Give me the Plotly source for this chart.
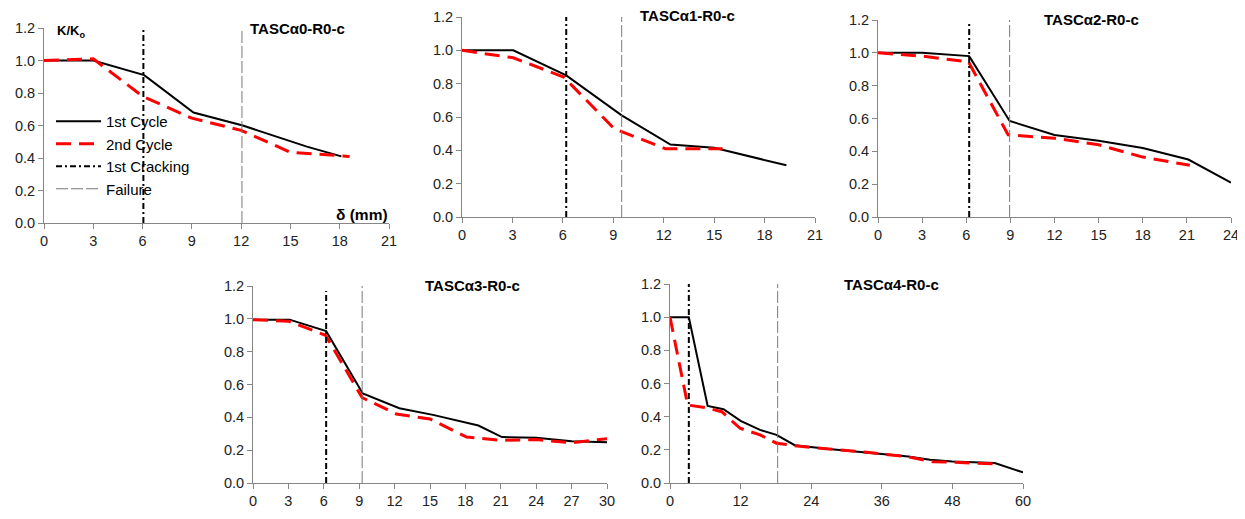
import plotly.graph_objects as go

W, H = 1245, 519
OFF = 8  # default body margin of the page

titles = ["TASCα0-R0-c", "TASCα1-R0-c", "TASCα2-R0-c", "TASCα3-R0-c", "TASCα4-R0-c"]

s0_x1 = [0, 3, 6.1, 9.1, 12.1, 16, 18.1]
s0_y1 = [1.0, 1.0, 0.91, 0.68, 0.60, 0.47, 0.41]
s0_x2 = [0, 3, 6, 9, 12, 15, 18.6]
s0_y2 = [1.0, 1.01, 0.78, 0.645, 0.57, 0.435, 0.41]

s1_x1 = [0, 3.05, 6.2, 9.5, 12.4, 15, 19.3]
s1_y1 = [1.0, 1.0, 0.85, 0.61, 0.435, 0.415, 0.31]
s1_x2 = [0, 3.05, 6.05, 9.05, 12.1, 15.5]
s1_y2 = [1.0, 0.955, 0.84, 0.53, 0.41, 0.41]

s2_x1 = [0, 3, 6.2, 8.95, 12, 15, 18, 21.1, 24]
s2_y1 = [1.0, 1.0, 0.98, 0.585, 0.50, 0.465, 0.42, 0.35, 0.21]
s2_x2 = [0, 3, 6.15, 8.85, 12, 15, 18, 21.2]
s2_y2 = [1.0, 0.98, 0.945, 0.50, 0.48, 0.44, 0.365, 0.315]

s3_x1 = [0, 3.1, 6.2, 9.3, 12.4, 15.25, 19.1, 21.1, 24, 27, 30]
s3_y1 = [0.995, 0.995, 0.925, 0.545, 0.455, 0.415, 0.35, 0.28, 0.275, 0.255, 0.248]
s3_x2 = [0, 3.05, 6.15, 9.25, 12.15, 15, 18.1, 21.05, 24, 27, 30]
s3_y2 = [0.995, 0.985, 0.90, 0.52, 0.42, 0.39, 0.28, 0.26, 0.265, 0.245, 0.27]

s4_x1 = [0, 3.2, 6.4, 9.1, 12, 15.3, 18.1, 21.2, 27, 33.4, 40.5, 44.2, 48, 55.2, 60]
s4_y1 = [1.0, 1.0, 0.465, 0.445, 0.375, 0.32, 0.29, 0.228, 0.205, 0.185, 0.16, 0.14, 0.13, 0.12, 0.064]
s4_x2 = [0, 3, 6, 8.8, 11.9, 15.3, 18.1, 21.2, 27, 33.4, 40.2, 44.7, 48, 55.2]
s4_y2 = [1.0, 0.47, 0.455, 0.43, 0.33, 0.29, 0.24, 0.225, 0.205, 0.185, 0.159, 0.128, 0.125, 0.115]

cracking = [6.05, 6.2, 6.2, 6.2, 3.2]
failure = [12.05, 9.5, 8.95, 9.25, 18.3]
crack_top = [1.2, 1.2, 1.18, 1.17, 1.2]
fail_top = [1.2, 1.2, 1.2, 1.2, 1.2]

x_max = [21, 21, 24, 30, 60]
x_ticks = [list(range(0, 22, 3)), list(range(0, 22, 3)), list(range(0, 25, 3)),
           list(range(0, 31, 3)), list(range(0, 61, 12))]
y_ticks = [0.0, 0.2, 0.4, 0.6, 0.8, 1.0, 1.2]
y_ticklabels = ["0.0", "0.2", "0.4", "0.6", "0.8", "1.0", "1.2"]

series = [(s0_x1, s0_y1, s0_x2, s0_y2), (s1_x1, s1_y1, s1_x2, s1_y2),
          (s2_x1, s2_y1, s2_x2, s2_y2), (s3_x1, s3_y1, s3_x2, s3_y2),
          (s4_x1, s4_y1, s4_x2, s4_y2)]

# pixel boxes in the screenshot: left, right, top(1.2), bottom(0)
boxes = [(44, 389, 28, 223), (462, 815, 17, 217), (878, 1231, 20, 217),
         (253, 607, 286, 483), (670, 1023, 284, 483)]
title_pos = [(248, 28), (638, 15), (1042, 20), (423, 285), (842, 284)]

FONT = "Arial, Liberation Sans, sans-serif"
AXC = "#868686"

def px(x):
    return (x - OFF) / W

def py(y):
    return 1 - (y - OFF) / H

fig = go.Figure()
for i in range(5):
    xa = "x" if i == 0 else f"x{i+1}"
    ya = "y" if i == 0 else f"y{i+1}"
    x1, y1, x2, y2 = series[i]
    leg = i == 0
    fig.add_trace(go.Scatter(x=x1, y=y1, mode="lines", name="1st Cycle", xaxis=xa, yaxis=ya,
                             line=dict(color="black", width=2), showlegend=leg))
    fig.add_trace(go.Scatter(x=x2, y=y2, mode="lines", name="2nd Cycle", xaxis=xa, yaxis=ya,
                             line=dict(color="#ff0000", width=3, dash="15px,8px"), showlegend=leg))
    fig.add_trace(go.Scatter(x=[cracking[i], cracking[i]], y=[0, crack_top[i]], mode="lines",
                             name="1st Cracking", xaxis=xa, yaxis=ya,
                             line=dict(color="black", width=2, dash="6px,3px,2px,3px"), showlegend=leg))
    fig.add_trace(go.Scatter(x=[failure[i], failure[i]], y=[0, fail_top[i]], mode="lines",
                             name="Failure", xaxis=xa, yaxis=ya,
                             line=dict(color="#7a7a7a", width=1, dash="12px,3px"), showlegend=leg))
    l, r, t, b = boxes[i]
    key = "" if i == 0 else str(i + 1)
    fig.layout["xaxis" + key] = dict(
        domain=[px(l), px(r)], anchor=ya, range=[0, x_max[i]], tickvals=x_ticks[i],
        showline=True, linecolor=AXC, linewidth=1, ticks="outside", ticklen=5, tickcolor=AXC,
        showgrid=False, zeroline=False, automargin=False,
        tickfont=dict(family=FONT, size=14.5, color="#222"))
    fig.layout["yaxis" + key] = dict(
        domain=[py(b), py(t)], anchor=xa, range=[0, 1.2], tickvals=y_ticks, ticktext=y_ticklabels,
        showline=True, linecolor=AXC, linewidth=1, ticks="outside", ticklen=5, tickcolor=AXC,
        showgrid=False, zeroline=False, automargin=False,
        tickfont=dict(family=FONT, size=14.5, color="#222"))
    tx, ty = title_pos[i]
    fig.add_annotation(x=px(tx), y=py(ty), xref="paper", yref="paper", xanchor="left",
                       yanchor="middle", showarrow=False, text="<b>" + titles[i] + "</b>",
                       font=dict(family=FONT, size=15, color="black"))

fig.add_annotation(x=px(55), y=py(32), xref="paper", yref="paper", xanchor="left", yanchor="middle",
                   showarrow=False, text="<b>K/K<sub>o</sub></b>", font=dict(family=FONT, size=13, color="black"))
fig.add_annotation(x=px(390), y=py(214), xref="paper", yref="paper", xanchor="right", yanchor="middle",
                   showarrow=False, text="<b>δ (mm)</b>", font=dict(family=FONT, size=15.5, color="black"))

fig.update_layout(
    width=W, height=H, margin=dict(l=0, r=0, t=0, b=0, autoexpand=False),
    paper_bgcolor="white", plot_bgcolor="rgba(0,0,0,0)",
    legend=dict(x=px(51), y=py(105), xanchor="left", yanchor="top", bgcolor="rgba(0,0,0,0)",
                font=dict(family=FONT, size=15, color="black"), itemwidth=45, tracegroupgap=0),
    font=dict(family=FONT),
)

fig.write_html("out.html")
